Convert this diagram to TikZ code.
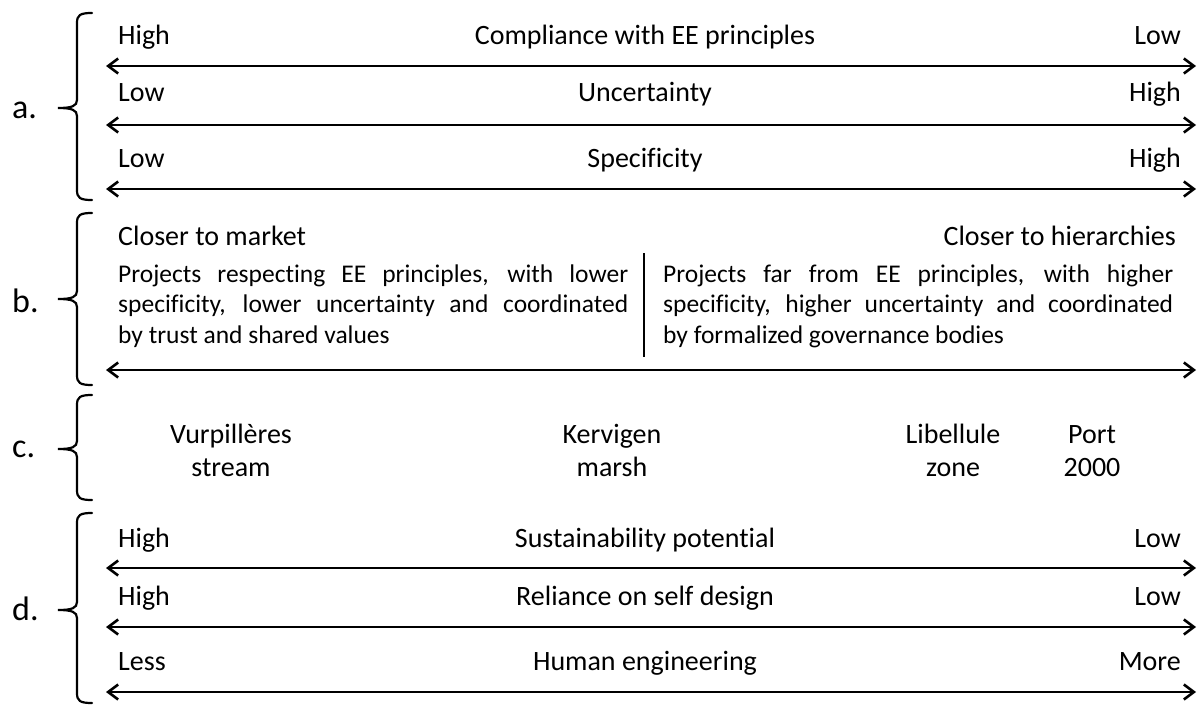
\documentclass[tikz,border=0pt]{standalone}
\usepackage{fontspec}
\setmainfont{Carlito}[Ligatures=CommonOff]
\usetikzlibrary{arrows.meta}
\begin{document}
\begin{tikzpicture}[x=1pt,y=-1pt,
	scalearrow/.style={line width=2.6pt,{Straight Barb[length=10pt,width=15pt]}-{Straight Barb[length=10pt,width=15pt]}},
	braceline/.style={line width=2.2pt,line cap=round},
	endlabel/.style={inner sep=0pt,font=\fontsize{28}{33}\selectfont},
	rowlabel/.style={inner sep=0pt,font=\fontsize{34}{40}\selectfont,anchor=base west},
	projtext/.style={inner sep=0pt,font=\fontsize{25.5}{30.5}\selectfont,text width=510pt,align=justify,anchor=base west},
	site/.style={inner sep=0pt,font=\fontsize{28}{33}\selectfont,text width=170pt,align=center,anchor=base}]
	\useasboundingbox (0,0) rectangle (1198,706);
	% braces
	\draw[braceline] (92,13) .. controls (80,13) and (77,15) .. (77,23) -- (77,100) .. controls (77,106) and (72,108) .. (58,108) .. controls (72,108) and (77,110) .. (77,116) -- (77,190) .. controls (77,198) and (80,200) .. (92,200);
	\draw[braceline] (92,213) .. controls (80,213) and (77,215) .. (77,223) -- (77,291) .. controls (77,297) and (72,299) .. (58,299) .. controls (72,299) and (77,301) .. (77,307) -- (77,375) .. controls (77,383) and (80,385) .. (92,385);
	\draw[braceline] (92,395) .. controls (80,395) and (77,397) .. (77,405) -- (77,441) .. controls (77,447) and (72,449) .. (58,449) .. controls (72,449) and (77,451) .. (77,457) -- (77,490) .. controls (77,498) and (80,500) .. (92,500);
	\draw[braceline] (92,513) .. controls (80,513) and (77,515) .. (77,523) -- (77,602) .. controls (77,608) and (72,610) .. (58,610) .. controls (72,610) and (77,612) .. (77,618) -- (77,693) .. controls (77,701) and (80,703) .. (92,703);
	\node[rowlabel] (rowa) at (12,118) {a.};
	\node[rowlabel] (rowb) at (12,312) {b.};
	\node[rowlabel] (rowc) at (12,457) {c.};
	\node[rowlabel] (rowd) at (12,620) {d.};

	% a. scales
	\node[endlabel,anchor=base west] (compHigh) at (118,45) {High};
	\node[endlabel,anchor=base] (comp) at (645,45) {Compliance with EE principles};
	\node[endlabel,anchor=base east] (compLow) at (1181,45) {Low};
	\coordinate (compL) at (106,66);
	\coordinate (compR) at (1196,66);
	\draw[scalearrow] (compL) -- (compR);
	\node[endlabel,anchor=base west] (uncLow) at (118,102) {Low};
	\node[endlabel,anchor=base] (unc) at (645,102) {Uncertainty};
	\node[endlabel,anchor=base east] (uncHigh) at (1181,102) {High};
	\coordinate (uncL) at (106,125);
	\coordinate (uncR) at (1196,125);
	\draw[scalearrow] (uncL) -- (uncR);
	\node[endlabel,anchor=base west] (specLow) at (118,167) {Low};
	\node[endlabel,anchor=base] (spec) at (645,167) {Specificity};
	\node[endlabel,anchor=base east] (specHigh) at (1181,167) {High};
	\coordinate (specL) at (106,189);
	\coordinate (specR) at (1196,189);
	\draw[scalearrow] (specL) -- (specR);

	% b. market vs hierarchies
	\node[endlabel,anchor=base west] (market) at (118,245) {Closer to market};
	\node[endlabel,anchor=base east] (hier) at (1176,245) {Closer to hierarchies};
	\node[projtext] (projMarket) at (118,282) {Projects respecting EE principles, with lower\linebreak specificity, lower uncertainty and coordinated\linebreak by trust and shared values};
	\node[projtext] (projHier) at (663,282) {Projects far from EE principles, with higher\linebreak specificity, higher uncertainty and coordinated\linebreak by formalized governance bodies};
	\draw[line width=1.3pt] (644,253) -- (644,357);
	\coordinate (govL) at (106,370);
	\coordinate (govR) at (1196,370);
	\draw[scalearrow] (govL) -- (govR);

	% c. sites
	\node[site] (vurp) at (231,443) {Vurpillères\\stream};
	\node[site] (kerv) at (612,443) {Kervigen\\marsh};
	\node[site] (libel) at (953,443) {Libellule\\zone};
	\node[site] (port) at (1092,443) {Port\\2000};

	% d. scales
	\node[endlabel,anchor=base west] (sustHigh) at (118,547) {High};
	\node[endlabel,anchor=base] (sust) at (645,547) {Sustainability potential};
	\node[endlabel,anchor=base east] (sustLow) at (1181,547) {Low};
	\coordinate (sustL) at (106,568);
	\coordinate (sustR) at (1196,568);
	\draw[scalearrow] (sustL) -- (sustR);
	\node[endlabel,anchor=base west] (selfHigh) at (118,605) {High};
	\node[endlabel,anchor=base] (self) at (645,605) {Reliance on self design};
	\node[endlabel,anchor=base east] (selfLow) at (1181,605) {Low};
	\coordinate (selfL) at (106,627);
	\coordinate (selfR) at (1196,627);
	\draw[scalearrow] (selfL) -- (selfR);
	\node[endlabel,anchor=base west] (engLess) at (118,670) {Less};
	\node[endlabel,anchor=base] (eng) at (645,670) {Human engineering};
	\node[endlabel,anchor=base east] (engMore) at (1181,670) {More};
	\coordinate (engL) at (106,692);
	\coordinate (engR) at (1196,692);
	\draw[scalearrow] (engL) -- (engR);
\end{tikzpicture}
\end{document}
